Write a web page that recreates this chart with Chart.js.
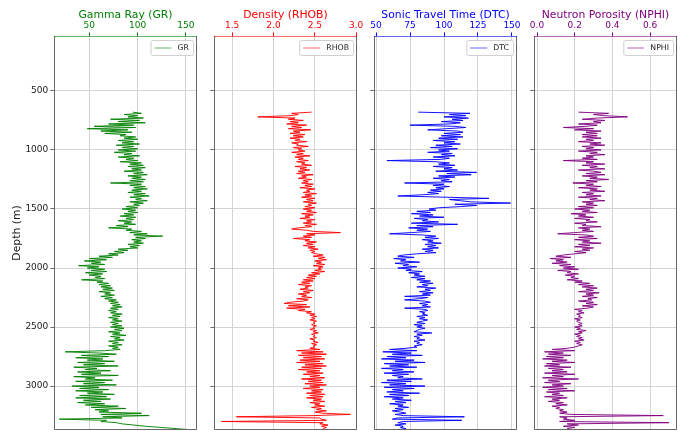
<!DOCTYPE html>
<html>
<head>
<meta charset="utf-8">
<script src="https://cdn.jsdelivr.net/npm/chart.js@4.4.1/dist/chart.umd.min.js"></script>
<style>
  body { margin: 0; background: #fff; }
  #wrap { position: relative; width: 680px; height: 431px; }
  canvas { position: absolute; top: 0; }
</style>
</head>
<body>
<div id="wrap">
  <canvas id="grChart" width="205" height="431" style="left:0px"></canvas>
  <canvas id="rhobChart" width="157" height="431" style="left:208px"></canvas>
  <canvas id="dtcChart" width="157" height="431" style="left:368px"></canvas>
  <canvas id="nphiChart" width="152" height="431" style="left:528px"></canvas>
</div>
<script>
const depth = [
  680, 690, 700, 710, 720, 730, 740, 750, 760, 770, 780, 790, 800, 810, 820, 830, 840, 850, 860, 870,
  880, 890, 900, 910, 920, 930, 940, 950, 960, 970, 980, 990, 1000, 1010, 1020, 1030, 1040, 1050, 1060, 1070,
  1080, 1090, 1100, 1110, 1120, 1130, 1140, 1150, 1160, 1170, 1180, 1190, 1200, 1210, 1220, 1230, 1240, 1250, 1260, 1270,
  1280, 1290, 1300, 1310, 1320, 1330, 1340, 1350, 1360, 1370, 1380, 1390, 1400, 1410, 1420, 1430, 1440, 1450, 1460, 1470,
  1480, 1490, 1500, 1510, 1520, 1530, 1540, 1550, 1560, 1570, 1580, 1590, 1600, 1610, 1620, 1630, 1640, 1650, 1660, 1670,
  1680, 1690, 1700, 1710, 1720, 1730, 1740, 1750, 1760, 1770, 1780, 1790, 1800, 1810, 1820, 1830, 1840, 1850, 1860, 1870,
  1880, 1890, 1900, 1910, 1920, 1930, 1940, 1950, 1960, 1970, 1980, 1990, 2000, 2010, 2020, 2030, 2040, 2050, 2060, 2070,
  2080, 2090, 2100, 2110, 2120, 2130, 2140, 2150, 2160, 2170, 2180, 2190, 2200, 2210, 2220, 2230, 2240, 2250, 2260, 2270,
  2280, 2290, 2300, 2310, 2320, 2330, 2340, 2350, 2360, 2370, 2380, 2390, 2400, 2410, 2420, 2430, 2440, 2450, 2460, 2470,
  2480, 2490, 2500, 2510, 2520, 2530, 2540, 2550, 2560, 2570, 2580, 2590, 2600, 2610, 2620, 2630, 2640, 2650, 2660, 2670,
  2680, 2690, 2700, 2710, 2720, 2730, 2740, 2750, 2760, 2770, 2780, 2790, 2800, 2810, 2820, 2830, 2840, 2850, 2860, 2870,
  2880, 2890, 2900, 2910, 2920, 2930, 2940, 2950, 2960, 2970, 2980, 2990, 3000, 3010, 3020, 3030, 3040, 3050, 3060, 3070,
  3080, 3090, 3100, 3110, 3120, 3130, 3140, 3150, 3160, 3170, 3180, 3190, 3200, 3210, 3220, 3230, 3240, 3250, 3260, 3270,
  3280, 3290, 3300, 3310, 3320, 3330, 3340, 3350, 3360, 3370
];

const gr = [
  95, 104, 86, 100, 90, 106, 72, 102, 80, 108, 70, 96, 55, 98, 48, 90, 62, 94, 66, 88,
  82, 98, 86, 100, 80, 96, 84, 102, 78, 96, 84, 100, 80, 98, 76, 94, 86, 102, 80, 96,
  88, 100, 82, 104, 92, 106, 90, 108, 94, 104, 86, 106, 96, 110, 90, 104, 94, 108, 92, 106,
  72, 104, 92, 108, 96, 110, 94, 104, 90, 108, 96, 112, 92, 104, 98, 110, 92, 106, 96, 102,
  88, 100, 84, 98, 90, 100, 86, 96, 82, 98, 88, 96, 80, 94, 86, 98, 78, 90, 70, 94,
  88, 104, 92, 110, 96, 126, 98, 108, 94, 104, 96, 106, 90, 102, 92, 100, 80, 90, 76, 86,
  70, 80, 60, 74, 50, 68, 45, 62, 52, 66, 39, 60, 48, 66, 52, 68, 46, 64, 50, 62,
  56, 66, 42, 64, 58, 70, 60, 72, 62, 74, 64, 76, 60, 72, 66, 76, 62, 74, 66, 78,
  70, 80, 72, 82, 74, 84, 72, 80, 70, 78, 72, 84, 74, 82, 70, 80, 74, 84, 72, 80,
  74, 84, 72, 86, 76, 84, 70, 82, 74, 88, 72, 82, 76, 86, 70, 80, 74, 84, 70, 80,
  74, 82, 66, 25, 60, 78, 42, 70, 36, 64, 48, 76, 38, 66, 44, 80, 34, 58, 46, 72,
  38, 62, 42, 80, 34, 56, 46, 74, 36, 66, 44, 78, 32, 60, 40, 70, 36, 64, 48, 76,
  40, 68, 36, 72, 44, 62, 38, 66, 46, 80, 52, 88, 56, 70, 60, 104, 62, 112, 64, 84,
  19, 68, 62, 78, 84, 96, 108, 124, 140, 155
];

const rhob = [
  2.46, 2.22, 2.30, 2.20, 1.81, 2.26, 2.18, 2.36, 2.20, 2.30, 2.16, 2.40, 2.22, 2.34, 2.18, 2.45, 2.24, 2.32, 2.20, 2.38,
  2.24, 2.36, 2.20, 2.32, 2.26, 2.40, 2.22, 2.30, 2.28, 2.42, 2.24, 2.34, 2.30, 2.38, 2.22, 2.36, 2.28, 2.44, 2.26, 2.36,
  2.30, 2.42, 2.28, 2.38, 2.34, 2.46, 2.26, 2.40, 2.32, 2.44, 2.30, 2.38, 2.28, 2.48, 2.34, 2.40, 2.30, 2.46, 2.36, 2.42,
  2.34, 2.48, 2.38, 2.46, 2.32, 2.50, 2.40, 2.44, 2.36, 2.52, 2.38, 2.46, 2.34, 2.50, 2.40, 2.48, 2.36, 2.52, 2.42, 2.46,
  2.38, 2.50, 2.36, 2.46, 2.40, 2.52, 2.34, 2.48, 2.38, 2.44, 2.32, 2.50, 2.40, 2.46, 2.36, 2.52, 2.38, 2.46, 2.30, 2.22,
  2.40, 2.48, 2.81, 2.40, 2.50, 2.36, 2.46, 2.24, 2.44, 2.38, 2.52, 2.40, 2.48, 2.36, 2.50, 2.42, 2.54, 2.44, 2.50, 2.46,
  2.52, 2.60, 2.48, 2.62, 2.54, 2.64, 2.50, 2.58, 2.52, 2.62, 2.48, 2.60, 2.54, 2.58, 2.50, 2.62, 2.46, 2.56, 2.42, 2.52,
  2.40, 2.50, 2.36, 2.48, 2.34, 2.44, 2.30, 2.46, 2.38, 2.42, 2.32, 2.48, 2.36, 2.44, 2.30, 2.40, 2.34, 2.46, 2.28, 2.42,
  2.36, 2.20, 2.13, 2.40, 2.18, 2.44, 2.16, 2.38, 2.30, 2.46, 2.40, 2.50, 2.44, 2.52, 2.46, 2.50, 2.44, 2.52, 2.48, 2.50,
  2.46, 2.52, 2.48, 2.50, 2.44, 2.52, 2.48, 2.54, 2.46, 2.50, 2.48, 2.52, 2.44, 2.50, 2.48, 2.54, 2.46, 2.52, 2.48, 2.50,
  2.44, 2.56, 2.28, 2.60, 2.34, 2.64, 2.30, 2.58, 2.36, 2.62, 2.32, 2.56, 2.28, 2.60, 2.38, 2.64, 2.34, 2.58, 2.30, 2.56,
  2.40, 2.60, 2.36, 2.56, 2.44, 2.62, 2.34, 2.58, 2.42, 2.60, 2.38, 2.64, 2.44, 2.56, 2.36, 2.60, 2.46, 2.58, 2.40, 2.62,
  2.44, 2.60, 2.40, 2.58, 2.48, 2.62, 2.44, 2.56, 2.50, 2.62, 2.46, 2.58, 2.52, 2.64, 2.50, 2.60, 2.93, 2.48, 1.55, 2.56,
  2.58, 2.64, 1.37, 2.60, 2.56, 2.66, 2.58, 2.64, 2.60, 2.62
];

const dtc = [
  81, 119, 104, 116, 100, 118, 106, 114, 98, 112, 104, 75, 108, 116, 102, 88, 110, 114, 100, 112,
  98, 114, 96, 110, 92, 108, 100, 112, 94, 106, 90, 110, 96, 104, 88, 106, 98, 108, 92, 104,
  98, 58, 94, 104, 96, 108, 92, 106, 100, 110, 94, 124, 102, 120, 96, 108, 92, 104, 98, 106,
  71, 100, 92, 104, 94, 100, 90, 98, 88, 96, 84, 66, 100, 133, 104, 112, 120, 149, 108, 124,
  112, 96, 89, 94, 80, 90, 76, 92, 82, 100, 78, 88, 84, 96, 76, 110, 80, 92, 74, 88,
  80, 90, 76, 60, 84, 94, 86, 96, 84, 92, 88, 98, 86, 94, 88, 96, 84, 92, 86, 94,
  80, 70, 66, 78, 63, 72, 68, 82, 64, 74, 70, 80, 66, 76, 72, 84, 74, 82, 78, 86,
  76, 86, 80, 90, 82, 92, 84, 88, 80, 94, 86, 90, 82, 92, 84, 90, 71, 88, 82, 71,
  86, 90, 82, 88, 84, 90, 71, 86, 88, 82, 86, 84, 88, 80, 86, 82, 88, 84, 80, 86,
  78, 84, 80, 86, 82, 80, 78, 91, 80, 84, 78, 82, 80, 86, 78, 82, 80, 84, 78, 80,
  72, 60, 80, 55, 76, 62, 84, 58, 72, 54, 78, 64, 86, 56, 74, 60, 80, 54, 70, 62,
  78, 56, 74, 62, 70, 66, 84, 58, 76, 54, 72, 60, 86, 56, 78, 62, 70, 58, 82, 60,
  74, 56, 70, 62, 76, 64, 72, 60, 70, 66, 74, 64, 70, 62, 68, 72, 64, 70, 115, 66,
  62, 113, 70, 66, 72, 64, 70, 68, 72, 66
];

const nphi = [
  0.22, 0.38, 0.30, 0.36, 0.48, 0.32, 0.24, 0.36, 0.30, 0.34, 0.22, 0.32, 0.26, 0.14, 0.30, 0.20, 0.34, 0.26, 0.32, 0.24,
  0.32, 0.24, 0.34, 0.26, 0.30, 0.22, 0.34, 0.28, 0.36, 0.24, 0.30, 0.26, 0.34, 0.22, 0.32, 0.28, 0.36, 0.26, 0.30, 0.24,
  0.32, 0.14, 0.30, 0.26, 0.36, 0.24, 0.32, 0.28, 0.36, 0.22, 0.30, 0.34, 0.26, 0.36, 0.24, 0.32, 0.28, 0.38, 0.26, 0.32,
  0.19, 0.30, 0.26, 0.34, 0.22, 0.32, 0.28, 0.36, 0.24, 0.30, 0.26, 0.34, 0.22, 0.32, 0.28, 0.36, 0.24, 0.30, 0.26, 0.32,
  0.22, 0.30, 0.20, 0.28, 0.24, 0.32, 0.18, 0.26, 0.22, 0.30, 0.20, 0.28, 0.26, 0.32, 0.20, 0.26, 0.24, 0.34, 0.22, 0.28,
  0.24, 0.30, 0.20, 0.11, 0.26, 0.30, 0.22, 0.32, 0.20, 0.28, 0.24, 0.34, 0.22, 0.28, 0.20, 0.30, 0.24, 0.28, 0.20, 0.26,
  0.20, 0.14, 0.10, 0.18, 0.07, 0.14, 0.10, 0.16, 0.08, 0.18, 0.12, 0.20, 0.14, 0.22, 0.11, 0.18, 0.16, 0.22, 0.15, 0.20,
  0.18, 0.22, 0.16, 0.24, 0.20, 0.28, 0.22, 0.30, 0.24, 0.32, 0.26, 0.30, 0.22, 0.33, 0.26, 0.30, 0.24, 0.32, 0.27, 0.29,
  0.22, 0.30, 0.26, 0.32, 0.24, 0.30, 0.27, 0.20, 0.24, 0.22, 0.25, 0.21, 0.23, 0.22, 0.24, 0.20, 0.23, 0.21, 0.22, 0.24,
  0.22, 0.24, 0.20, 0.23, 0.21, 0.26, 0.22, 0.24, 0.20, 0.23, 0.21, 0.24, 0.22, 0.25, 0.20, 0.23, 0.21, 0.24, 0.22, 0.20,
  0.16, 0.08, 0.20, 0.04, 0.14, 0.06, 0.18, 0.05, 0.14, 0.03, 0.16, 0.08, 0.20, 0.05, 0.12, 0.04, 0.18, 0.06, 0.14, 0.08,
  0.16, 0.04, 0.20, 0.08, 0.14, 0.03, 0.22, 0.06, 0.12, 0.04, 0.18, 0.08, 0.14, 0.03, 0.16, 0.06, 0.20, 0.05, 0.12, 0.08,
  0.14, 0.04, 0.16, 0.08, 0.12, 0.06, 0.14, 0.10, 0.16, 0.08, 0.12, 0.10, 0.14, 0.12, 0.16, 0.12, 0.18, 0.67, 0.12, 0.16,
  0.14, 0.20, 0.12, 0.70, 0.16, 0.22, 0.14, 0.20, 0.16, 0.18
];

const depthTicks = [500, 1000, 1500, 2000, 2500, 3000];
const grTicks = [50, 100, 150];
const rhobTicks = [1.5, 2.0, 2.5, 3.0];
const dtcTicks = [50, 75, 100, 125, 150];
const nphiTicks = [0.0, 0.2, 0.4, 0.6];

Chart.defaults.font.family = "'DejaVu Sans', sans-serif";

const gridColor = '#d4d4d4';
const spineColor = '#666';

// frame around the plot area, top spine takes the track colour
const framePlugin = {
    id: 'frame',
    afterDraw(chart, args, opts) {
        const a = chart.chartArea;
        const ctx = chart.ctx;
        ctx.save();
        ctx.lineWidth = 1;
        ctx.strokeStyle = spineColor;
        ctx.beginPath();
        ctx.moveTo(a.left + 0.5, a.top);
        ctx.lineTo(a.left + 0.5, a.bottom - 0.5);
        ctx.lineTo(a.right - 0.5, a.bottom - 0.5);
        ctx.lineTo(a.right - 0.5, a.top);
        ctx.stroke();
        ctx.strokeStyle = opts.topColor;
        ctx.beginPath();
        ctx.moveTo(a.left, a.top + 0.5);
        ctx.lineTo(a.right, a.top + 0.5);
        ctx.stroke();
        ctx.restore();
    }
};

// small matplotlib-style legend in the upper right corner
const cornerLegend = {
    id: 'cornerLegend',
    afterDraw(chart) {
        const ds = chart.data.datasets[0];
        const a = chart.chartArea;
        const ctx = chart.ctx;
        ctx.save();
        ctx.font = "7.8px 'DejaVu Sans'";
        const tw = ctx.measureText(ds.label).width;
        const w = 3.5 + 17 + 6 + tw + 4.5;
        const h = 15;
        const x = a.right - 4 - w;
        const y = a.top + 4;
        ctx.fillStyle = 'rgba(255,255,255,0.85)';
        ctx.strokeStyle = '#d0d0d0';
        ctx.lineWidth = 1;
        ctx.beginPath();
        ctx.roundRect(x + 0.5, y + 0.5, w, h, 2);
        ctx.fill();
        ctx.stroke();
        ctx.strokeStyle = opts_legendColor(ds);
        ctx.beginPath();
        ctx.moveTo(x + 4, y + h / 2 + 0.5);
        ctx.lineTo(x + 21, y + h / 2 + 0.5);
        ctx.stroke();
        ctx.fillStyle = '#222';
        ctx.textBaseline = 'middle';
        ctx.fillText(ds.label, x + 27, y + h / 2 + 0.5);
        ctx.restore();
    }
};

// the legend sample is a bit paler than the dense curve
function opts_legendColor(ds) {
    return ds.legendColor || ds.borderColor;
}

function makeTrack(canvasId, opts) {
    const points = depth.map((d, i) => ({x: opts.values[i], y: d}));
    const ctx = document.getElementById(canvasId).getContext('2d');
    return new Chart(ctx, {
        type: 'scatter',
        data: {
            datasets: [{
                label: opts.label,
                data: points,
                showLine: true,
                borderColor: opts.line,
                legendColor: opts.spine,
                borderWidth: 1,
                pointRadius: 0,
                tension: 0
            }]
        },
        options: {
            responsive: false,
            animation: false,
            devicePixelRatio: 1,
            layout: { padding: { left: 0, right: opts.padRight, top: 0, bottom: 1 } },
            plugins: {
                legend: { display: false },
                tooltip: { enabled: false },
                frame: { topColor: opts.spine }
            },
            scales: {
                x: {
                    type: 'linear',
                    position: 'top',
                    min: opts.min,
                    max: opts.max,
                    afterBuildTicks: s => { s.ticks = opts.ticks.map(v => ({value: v})); },
                    afterFit: s => { s.height = 36; },
                    ticks: {
                        color: opts.color,
                        font: { size: 9 },
                        padding: 1,
                        maxRotation: 0,
                        callback: v => v.toFixed(opts.decimals)
                    },
                    grid: { color: gridColor, tickLength: 3.5, tickColor: opts.color },
                    border: { display: false },
                    title: {
                        display: true,
                        text: opts.title,
                        color: opts.color,
                        font: { size: 10.8 },
                        padding: { top: 8.5, bottom: 0 }
                    }
                },
                y: {
                    type: 'linear',
                    reverse: true,
                    min: 35,
                    max: 3372,
                    afterBuildTicks: s => { s.ticks = depthTicks.map(v => ({value: v})); },
                    afterFit: s => {
                        s.width = opts.yWidth;
                        s.paddingTop = 0;
                        s.paddingBottom = 0;
                    },
                    ticks: {
                        display: opts.showDepth,
                        color: '#222',
                        font: { size: 9 },
                        padding: 2.2,
                        callback: v => String(v)
                    },
                    grid: { color: gridColor, tickLength: 3.5, tickColor: spineColor },
                    border: { display: false },
                    title: {
                        display: opts.showDepth,
                        text: 'Depth (m)',
                        color: '#222',
                        font: { size: 10.8 },
                        padding: { top: 11, bottom: 0 }
                    }
                }
            }
        },
        plugins: [framePlugin, cornerLegend]
    });
}

makeTrack('grChart', {
    label: 'GR', title: 'Gamma Ray (GR)', values: gr,
    line: 'rgba(0,128,0,0.92)', color: 'green', spine: 'rgba(0,128,0,0.6)',
    min: 13.5, max: 161.5, ticks: grTicks, decimals: 0,
    yWidth: 54, showDepth: true, padRight: 8
});
makeTrack('rhobChart', {
    label: 'RHOB', title: 'Density (RHOB)', values: rhob,
    line: 'rgba(255,0,0,0.92)', color: 'red', spine: 'rgba(255,0,0,0.6)',
    min: 1.28, max: 3.01, ticks: rhobTicks, decimals: 1,
    yWidth: 6, showDepth: false, padRight: 8
});
makeTrack('dtcChart', {
    label: 'DTC', title: 'Sonic Travel Time (DTC)', values: dtc,
    line: 'rgba(0,0,255,0.92)', color: 'blue', spine: 'rgba(0,0,255,0.6)',
    min: 48.5, max: 153.7, ticks: dtcTicks, decimals: 0,
    yWidth: 6, showDepth: false, padRight: 8
});
makeTrack('nphiChart', {
    label: 'NPHI', title: 'Neutron Porosity (NPHI)', values: nphi,
    line: 'rgba(128,0,128,0.92)', color: 'purple', spine: 'rgba(128,0,128,0.6)',
    min: -0.016, max: 0.743, ticks: nphiTicks, decimals: 1,
    yWidth: 6, showDepth: false, padRight: 3
});
</script>
</body>
</html>
